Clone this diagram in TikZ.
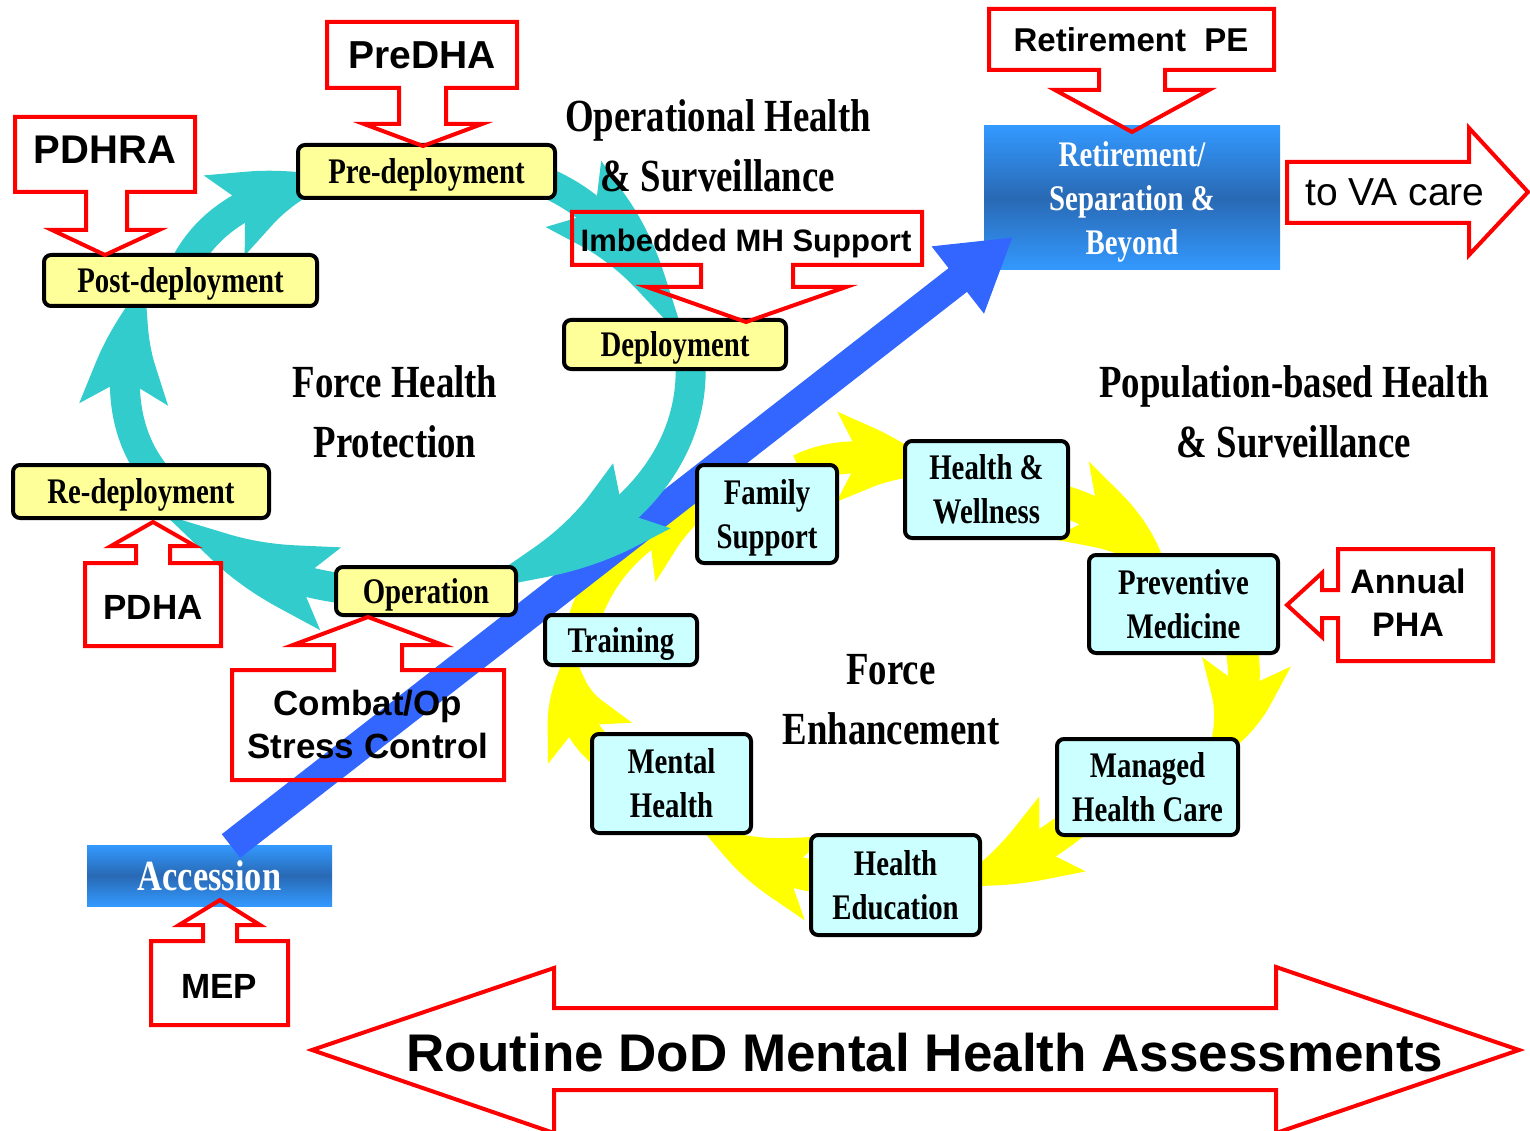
\documentclass[tikz,border=0pt]{standalone}
\usepackage{fontspec}
\setmainfont{Liberation Sans}
\newfontfamily\serifc[FakeStretch=0.8]{Liberation Serif}
\usetikzlibrary{arrows.meta,bending}
\definecolor{ringteal}{RGB}{51,204,204}
\definecolor{ringyellow}{RGB}{255,255,0}
\definecolor{boxyellow}{RGB}{255,255,153}
\definecolor{boxcyan}{RGB}{204,255,255}
\definecolor{arrowblue}{RGB}{51,102,255}
\definecolor{gradlight}{RGB}{51,153,255}
\definecolor{graddark}{RGB}{41,105,180}
\definecolor{calloutred}{RGB}{255,0,0}
\tikzset{
  stagebox/.style={draw=black, line width=4pt, rounded corners=7pt, fill=boxyellow, inner sep=0pt, align=center, text depth=0pt, font=\serifc\bfseries\fontsize{36}{44}\selectfont},
  fieldbox/.style={stagebox, fill=boxcyan},
  gradbox/.style={inner sep=0pt, align=center, text depth=0pt, text=white, top color=gradlight, bottom color=gradlight, middle color=graddark, font=\serifc\bfseries\fontsize{36}{44}\selectfont},
  bigtitle/.style={inner sep=0pt, align=center, text depth=0pt, font=\serifc\bfseries\fontsize{46}{60}\selectfont},
  calloutline/.style={draw=calloutred, line width=4pt, line join=miter},
  calltext/.style={inner sep=0pt, align=center, text depth=0pt, font=\bfseries\fontsize{#1}{43}\selectfont},
  tealarc/.style={draw=ringteal, line width=30pt, -{Stealth[length=#1,width=80pt,inset=25pt,bend]}},
  tealarc/.default=140pt,
  yellowarc/.style={draw=ringyellow, line width=32pt, -{Stealth[length=125pt,width=82pt,inset=25pt,bend]}},
  bluearrow/.style={draw=arrowblue, line width=30pt, -{Triangle[length=70pt,width=80pt]}},
}
\begin{document}
\begin{tikzpicture}[x=1pt,y=-1pt]
\useasboundingbox (0,0) rectangle (1530,1131);
\clip (0,0) rectangle (1530,1131);

% ---- yellow ring (Force Enhancement)
\draw[yellowarc] (578,650) .. controls (585,580) and (640,515) .. (735,495);
\draw[yellowarc] (800,470) .. controls (840,450) and (890,455) .. (950,475);
\draw[yellowarc] (1030,495) .. controls (1090,500) and (1150,540) .. (1170,590);
\draw[yellowarc] (1235,625) .. controls (1255,680) and (1240,730) .. (1200,770);
\draw[yellowarc] (1100,800) .. controls (1060,840) and (1010,870) .. (950,885);
\draw[yellowarc] (860,880) .. controls (800,880) and (740,860) .. (700,820);
\draw[yellowarc] (615,760) .. controls (580,740) and (560,700) .. (575,640);

% ---- retirement box and blue career arrow
\node[gradbox, minimum width=296pt, minimum height=144pt] (ret) at (1132,198) {Retirement/\\Separation \&\\Beyond};
\node[gradbox, minimum width=245pt, minimum height=61pt, font=\serifc\bfseries\fontsize{43}{50}\selectfont] (acc) at (209.5,875.5) {Accession};
\coordinate (accTop) at (231,846);
\coordinate (retEntry) at (1013,237);
\draw[bluearrow] (accTop) -- (retEntry);

% ---- teal ring (Force Health Protection)
\draw[tealarc] (175,290) .. controls (195,225) and (250,188) .. (345,178);
\draw[tealarc=190pt] (470,172) .. controls (570,160) and (650,250) .. (680,350);
\draw[tealarc=220pt] (690,355) .. controls (700,470) and (600,560) .. (460,586);
\draw[tealarc=170pt] (420,592) .. controls (330,597) and (225,570) .. (170,505);
\draw[tealarc] (160,480) .. controls (115,430) and (115,355) .. (150,275);

% ---- deployment stages
\node[stagebox, minimum width=257pt, minimum height=53pt] (pre) at (426.5,171.5) {Pre-deployment};
\node[stagebox, minimum width=273pt, minimum height=51pt] (post) at (180.5,280.5) {Post-deployment};
\node[stagebox, minimum width=222pt, minimum height=49pt] (dep) at (675,344.5) {Deployment};
\node[stagebox, minimum width=256pt, minimum height=53pt] (redep) at (141,491.5) {Re-deployment};
\node[stagebox, minimum width=180pt, minimum height=48pt] (op) at (426,591) {Operation};

% ---- force enhancement fields
\node[fieldbox, minimum width=140pt, minimum height=98pt] (fam) at (767,514) {Family\\Support};
\node[fieldbox, minimum width=163pt, minimum height=97pt] (hw) at (986.5,489.5) {Health \&\\Wellness};
\node[fieldbox, minimum width=189pt, minimum height=98pt] (prev) at (1183.5,604) {Preventive\\Medicine};
\node[fieldbox, minimum width=152pt, minimum height=50pt] (train) at (621,640) {Training};
\node[fieldbox, minimum width=159pt, minimum height=99pt] (mh) at (671.5,783.5) {Mental\\Health};
\node[fieldbox, minimum width=169pt, minimum height=100pt] (he) at (895.5,885) {Health\\Education};
\node[fieldbox, minimum width=181pt, minimum height=96pt] (mhc) at (1147.5,787) {Managed\\Health Care};

% ---- titles
\node[bigtitle] (ohs) at (718,145.5) {Operational Health\\\& Surveillance};
\node[bigtitle] (fhp) at (395,411.5) {Force Health\\Protection};
\node[bigtitle] (pbh) at (1294,411.5) {Population-based Health\\\& Surveillance};
\node[bigtitle] (fe) at (891,699.5) {Force\\Enhancement};

% ---- red callouts
\draw[calloutline] (327,22) -- (517,22) -- (517,88) -- (446,88) -- (446,124) -- (482,124) -- (423,146) -- (364,124) -- (399,124) -- (399,88) -- (327,88) -- cycle;
\node[calltext=39] (predha) at (422,55) {PreDHA};

\draw[calloutline] (15,117) -- (195,117) -- (195,192) -- (127,192) -- (127,230) -- (159,230) -- (105,255) -- (52,230) -- (86,230) -- (86,192) -- (15,192) -- cycle;
\node[calltext=40] (pdhra) at (105,150) {PDHRA};

\draw[calloutline] (989,9) -- (1274,9) -- (1274,70) -- (1165,70) -- (1165,90) -- (1209,90) -- (1132,132) -- (1055,90) -- (1099,90) -- (1099,70) -- (989,70) -- cycle;
\node[calltext=33] (retpe) at (1131,40) {Retirement\ \ PE};

\draw[calloutline] (572,212) -- (922,212) -- (922,265) -- (793,265) -- (793,287) -- (846,287) -- (746,322) -- (647,287) -- (701,287) -- (701,265) -- (572,265) -- cycle;
\node[calltext=31] (imb) at (746,240) {Imbedded MH Support};

\draw[calloutline] (1287,162) -- (1469,162) -- (1469,128) -- (1528,192) -- (1469,255) -- (1469,223) -- (1287,223) -- cycle;
\node[calltext=39, font=\fontsize{39}{43}\selectfont] (va) at (1395,192) {to VA care};

\draw[calloutline] (1338,549) -- (1493,549) -- (1493,661) -- (1338,661) -- (1338,618) -- (1322,618) -- (1322,637) -- (1287,605) -- (1322,573) -- (1322,590) -- (1338,590) -- cycle;
\node[calltext=34] (pha) at (1408,603) {Annual\\PHA};

\draw[calloutline] (85,646) -- (85,563) -- (136,563) -- (136,546) -- (111,546) -- (153,522) -- (195,546) -- (170,546) -- (170,563) -- (221,563) -- (221,646) -- cycle;
\node[calltext=35] (pdha) at (153,607) {PDHA};

\draw[calloutline] (232,780) -- (232,670) -- (334,670) -- (334,645) -- (293,645) -- (368,617) -- (443,645) -- (402,645) -- (402,670) -- (504,670) -- (504,780) -- cycle;
\node[calltext=35] (cosc) at (368,724) {Combat/Op\\Stress Control};

\draw[calloutline] (151,1025) -- (151,941) -- (203,941) -- (203,925) -- (179,925) -- (220,900) -- (260,925) -- (237,925) -- (237,941) -- (288,941) -- (288,1025) -- cycle;
\node[calltext=35] (mep) at (219,986) {MEP};

\draw[calloutline] (312,1050) -- (554,968) -- (554,1008) -- (1276,1008) -- (1276,967) -- (1519,1050) -- (1276,1133) -- (1276,1090) -- (554,1090) -- (554,1133) -- cycle;
\node[calltext=53] (routine) at (925,1052) {Routine DoD Mental Health Assessments};
\end{tikzpicture}
\end{document}
